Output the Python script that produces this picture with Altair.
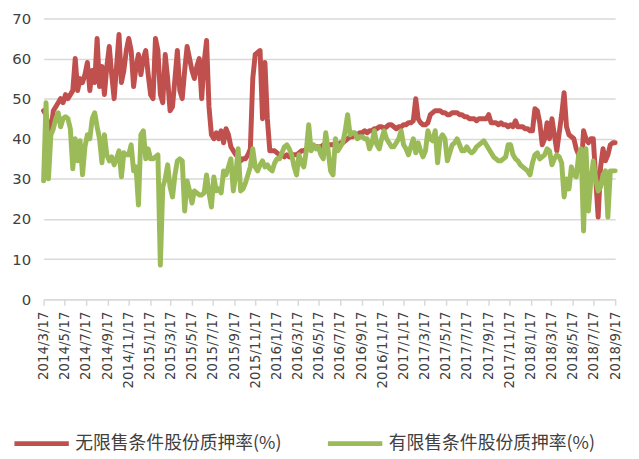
import altair as alt
import pandas as pd

start_date = "2014-03-17"
red_name = "无限售条件股份质押率(%)"
green_name = "有限售条件股份质押率(%)"

red_values = [
    47, 46, 43, 42, 47, 48, 49, 50, 49, 51,
    50, 51, 52, 60, 52, 55, 54, 56, 59, 52,
    57, 54, 65, 53, 58, 51, 58, 63, 56, 50,
    58, 66, 54, 57, 62, 65, 62, 53, 58, 61,
    56, 60, 62, 56, 51, 50, 65, 62, 51, 49,
    61, 55, 47, 48, 55, 62, 52, 50, 57, 63,
    60, 57, 55, 58, 60, 50, 59, 64.5, 48, 41,
    40, 41.5, 40, 42, 39, 42.5, 41, 38, 37, 36,
    36, 34.5, 35, 35, 36, 37.5, 55, 61, 61.5, 62,
    45, 59, 45, 37, 37, 37, 36.5, 36, 36, 35.5,
    36, 35.5, 36, 36, 36, 36.5, 37, 37, 37.5, 37.5,
    37.5, 38, 38, 38, 38, 38.5, 38, 38.5, 38.5, 38.5,
    39, 38.5, 39, 39, 39.5, 40, 40.5, 40.5, 41, 41,
    41.5, 41.5, 42, 41.5, 42, 42, 42.5, 42.5, 43, 43,
    42.5, 43, 43.5, 43.5, 43, 42.5, 43, 43, 43.5, 43.5,
    44, 44, 44.5, 50, 45, 44, 43.5, 43.5, 44, 46,
    46.5, 47, 47, 47, 46.5, 46.5, 46, 46, 46.5, 46.5,
    46.5, 46, 46, 45.5, 45.5, 45, 45, 45, 44.5, 45,
    45, 45, 45, 46, 44, 44, 44, 43.5, 44, 43.5,
    43.5, 43, 43.5, 43, 44.5, 43, 43, 43, 42.5, 42.5,
    42, 42, 47.5, 47, 44, 38.5, 40, 44, 40, 45,
    41, 37, 41.5, 46, 51.5, 43, 41, 40.5, 40, 37.5,
    36, 32, 42, 40, 39, 40, 40, 30, 20.5, 33,
    37.5, 34.5, 36, 38.5, 39, 39,
]

green_values = [
    29.5, 49, 30, 41, 42.5, 45, 46.5, 43, 45, 45.5,
    45, 42.5, 32.5, 40, 34.5, 39.5, 31, 38, 41, 40,
    45, 46.5, 43, 40, 34, 41, 36, 34.5, 35.5, 33.5,
    35, 37, 30.5, 36.5, 36, 36, 38.5, 32, 33, 23.5,
    41, 42, 35, 37.5, 35, 35, 35.5, 36, 8.5, 28,
    30, 33.5, 28, 25.5, 31, 34.5, 35, 34.5, 22, 29.5,
    27, 24, 27, 26.5, 26, 26, 26.5, 31, 26.5, 23,
    30.5, 27, 27.5, 26.5, 32, 31, 33, 35, 27, 31,
    37.5, 27, 27.5, 29, 31, 33, 37.5, 33, 32, 33.5,
    34.5, 33, 33.5, 32.5, 32, 34, 35, 35, 36.5, 38,
    38.5, 37.5, 36, 33, 31, 36, 34, 33, 37, 43.5,
    37, 38.5, 37.5, 38, 36, 35, 41.5, 37, 32, 31,
    40, 37, 38, 39, 42, 46, 41, 41.5, 41.5, 40,
    40.5, 40.5, 40, 40, 37.5, 39, 42, 38.5, 37.5, 40,
    42, 40, 39, 38, 38, 39, 40, 42, 38.5, 37.5,
    36, 38, 40, 36.5, 39, 37, 35.5, 37, 42, 40,
    39.5, 42, 34, 40, 41, 40, 34.5, 36.5, 38.5, 39,
    40, 38.5, 37, 37, 38, 37, 36.5, 37, 38, 38.5,
    39, 39.5, 38.5, 37.5, 36.5, 35.5, 35, 34.5, 34.5, 35,
    35.5, 38.5, 38.5, 36, 35, 34.5, 33.5, 33, 32.5, 32,
    31, 34, 36, 36.5, 35, 35.5, 36, 37.5, 37, 33.5,
    35, 36, 35.5, 34, 25.5, 30, 27.5, 33, 31, 30.5,
    36, 37.5, 17, 37.5, 22, 29.5, 34.5, 30, 27, 28,
    31, 32, 20.5, 32, 32, 32,
]

tick_years = [2014, 2014, 2014, 2014, 2014,
              2015, 2015, 2015, 2015, 2015, 2015,
              2016, 2016, 2016, 2016, 2016, 2016,
              2017, 2017, 2017, 2017, 2017, 2017,
              2018, 2018, 2018, 2018, 2018]
tick_months = [3, 5, 7, 9, 11,
               1, 3, 5, 7, 9, 11,
               1, 3, 5, 7, 9, 11,
               1, 3, 5, 7, 9, 11,
               1, 3, 5, 7, 9]
y_ticks = [0, 10, 20, 30, 40, 50, 60, 70]

red_dates = pd.date_range(start_date, periods=len(red_values), freq="7D")
green_dates = pd.date_range(start_date, periods=len(green_values), freq="7D")

df = pd.DataFrame({
    "date": [d.strftime("%Y-%m-%dT00:00:00") for d in red_dates]
    + [d.strftime("%Y-%m-%dT00:00:00") for d in green_dates],
    "value": red_values + green_values,
    "series": [red_name] * len(red_values) + [green_name] * len(green_values),
    "order": list(range(len(red_values))) + list(range(len(green_values))),
})

tick_values = [alt.DateTime(year=y, month=m, date=17) for y, m in zip(tick_years, tick_months)]

chart = alt.Chart(df).mark_line(strokeWidth=5, strokeJoin="round", strokeCap="round").encode(
    x=alt.X(
        "date:T",
        scale=alt.Scale(domain=[tick_values[0], tick_values[-1]], nice=False),
        axis=alt.Axis(
            title=None,
            values=tick_values,
            format="%Y/%-m/%-d",
            labelAngle=-90,
            labelFont="DejaVu Sans",
            labelFontSize=13.5,
            labelColor="#404040",
            labelPadding=6,
            labelOverlap=False,
            labelBound=False,
            labelFlush=False,
            grid=False,
            domainColor="#D9D9D9",
            domainWidth=1.5,
            tickColor="#D9D9D9",
            tickWidth=1.5,
            tickSize=6,
        ),
    ),
    y=alt.Y(
        "value:Q",
        scale=alt.Scale(domain=[0, 70], nice=False),
        axis=alt.Axis(
            title=None,
            values=y_ticks,
            labelFont="DejaVu Sans",
            labelFontSize=15,
            labelColor="#404040",
            labelPadding=13,
            domain=False,
            ticks=False,
            gridColor="#D9D9D9",
            gridWidth=1.5,
        ),
    ),
    color=alt.Color(
        "series:N",
        scale=alt.Scale(domain=[red_name, green_name], range=["#C0504D", "#9BBB59"]),
        legend=alt.Legend(
            orient="none",
            legendX=-32,
            legendY=400,
            direction="horizontal",
            title=None,
            symbolType="stroke",
            symbolSize=3025,
            symbolStrokeWidth=5,
            labelFont="Noto Sans CJK SC",
            labelFontSize=18,
            labelColor="#404040",
            labelOffset=4,
            labelLimit=400,
            columnPadding=36,
        ),
    ),
    order="order:Q",
).properties(
    width=578,
    height=284,
    padding={"left": 36, "top": 8, "right": 16, "bottom": 158},
    autosize=alt.AutoSizeParams(type="none"),
).configure_view(stroke=None)

chart.save("out.html", embed_options={"renderer": "svg", "actions": False})
